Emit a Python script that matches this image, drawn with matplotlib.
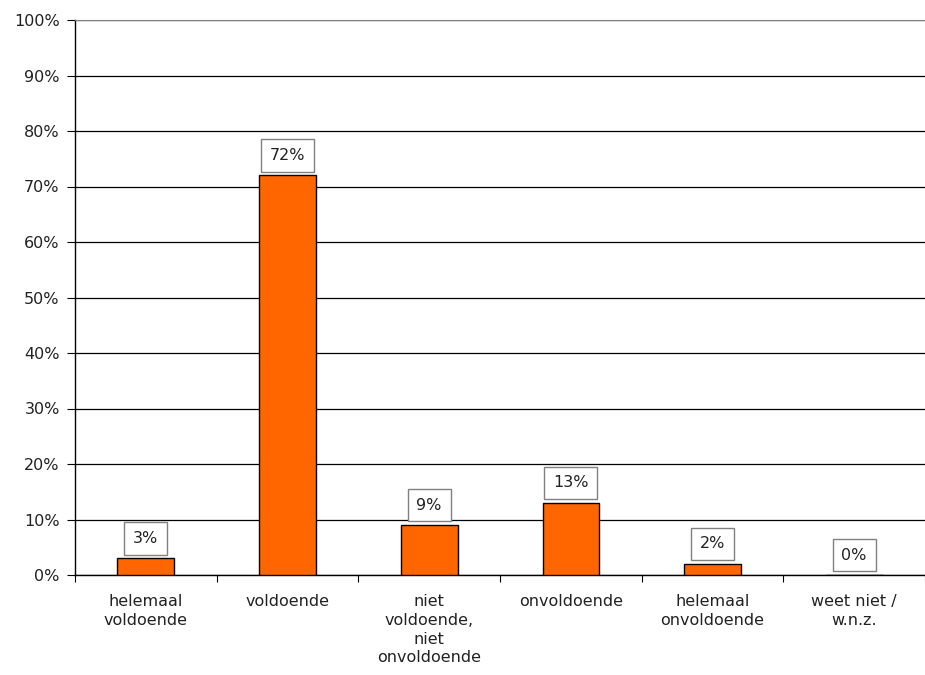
import matplotlib.pyplot as plt
import numpy as np

categories = ['helemaal\nvoldoende', 'voldoende', 'niet\nvoldoende,\nniet\nonvoldoende',
              'onvoldoende', 'helemaal\nonvoldoende', 'weet niet /\nw.n.z.']
values = [3, 72, 9, 13, 2, 0]
yticks = [0, 10, 20, 30, 40, 50, 60, 70, 80, 90, 100]

plt.rcParams['font.family'] = ['DejaVu Sans']
fs = 11.5

fig = plt.figure(figsize=(9.25, 6.75), dpi=100)
ax = fig.add_axes([75 / 925, 100 / 675, 1 - 75 / 925, 555 / 675])

x = np.arange(len(categories))
ax.bar(x, values, width=0.4, color='#FF6600', edgecolor='black', linewidth=1, zorder=3)

# labels in boxes above bars
for xi, v in zip(x, values):
    ax.annotate(f'{v}%', (xi, v), xytext=(0, 9), textcoords='offset points',
                ha='center', va='bottom', fontsize=fs, color='#222222', zorder=4,
                bbox=dict(boxstyle='square,pad=0.55', facecolor='white', edgecolor='#808080', linewidth=1))

ax.set_xlim(-0.5, len(categories) - 0.5)
ax.set_ylim(0, 100)
ax.set_yticks(yticks)
ax.set_yticklabels([f'{t}%' for t in yticks], fontsize=fs, color='#222222')
ax.yaxis.grid(True, color='black', linewidth=0.9, zorder=0)

ax.set_xticks(np.arange(len(categories) + 1) - 0.5)
ax.set_xticklabels([])
ax.set_xticks(x, minor=True)
ax.set_xticklabels(categories, minor=True, fontsize=fs, linespacing=1.3, va='top', color='#222222')
ax.tick_params(axis='x', which='minor', length=0, pad=14)
ax.tick_params(axis='x', which='major', length=5, direction='out', width=0.8)
ax.tick_params(axis='y', length=6, direction='out', width=0.8, pad=5)

ax.spines['right'].set_visible(False)
ax.spines['top'].set_color('#808080')
ax.spines['left'].set_linewidth(1)
ax.spines['bottom'].set_linewidth(1)

fig.savefig('out.png', dpi=100)
